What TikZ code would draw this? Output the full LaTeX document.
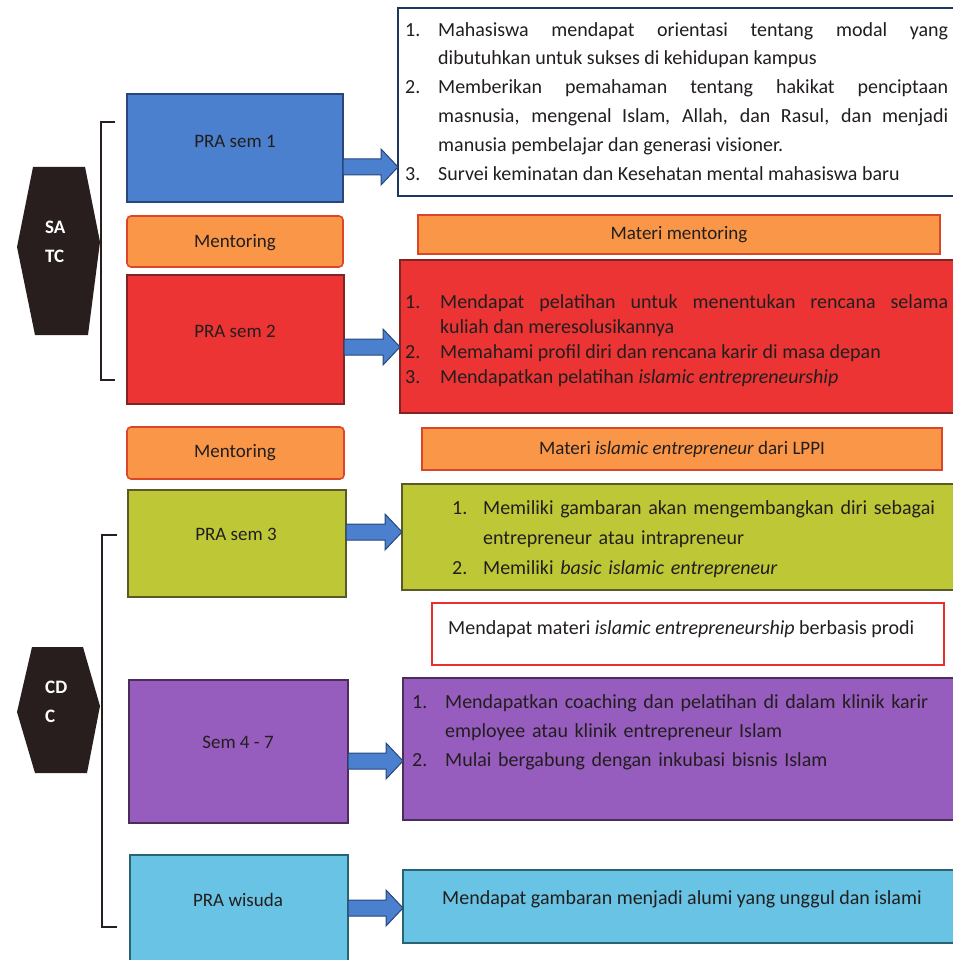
\documentclass[tikz,border=0pt]{standalone}
\usepackage{fontspec}
\setmainfont{Carlito}
\usetikzlibrary{calc}

\definecolor{cBlue}{RGB}{74,128,205}
\definecolor{cBlueD}{RGB}{40,70,120}
\definecolor{cOrange}{RGB}{249,150,72}
\definecolor{cOrangeD}{RGB}{220,70,40}
\definecolor{cRed}{RGB}{236,52,52}
\definecolor{cRedD}{RGB}{130,35,35}
\definecolor{cOlive}{RGB}{190,200,55}
\definecolor{cOliveD}{RGB}{90,90,40}
\definecolor{cPurple}{RGB}{150,92,190}
\definecolor{cPurpleD}{RGB}{75,45,90}
\definecolor{cCyan}{RGB}{105,195,228}
\definecolor{cCyanD}{RGB}{40,100,115}
\definecolor{cHex}{RGB}{40,30,30}
\definecolor{cNavy}{RGB}{30,55,95}
\definecolor{cBorderRed}{RGB}{232,48,48}
\definecolor{cText}{RGB}{35,30,30}

\newcommand{\itm}[3]{\hangindent=#1\hangafter=1\noindent\makebox[#1][l]{#2}#3\par}

\tikzset{
  boxbase/.style={draw, line width=1.6pt, anchor=north west, inner sep=0pt, outer sep=0pt},
  lbl/.style={font=\fontsize{19}{22}\selectfont, text=cText, inner sep=0pt},
  lst/.style={anchor=north west, inner sep=0pt, text=cText},
  hexlbl/.style={font=\fontsize{19}{29}\selectfont\bfseries, text=white, inner sep=0pt, align=left, anchor=north west},
  arrowblk/.style={fill=cBlue, draw=cBlueD, line width=1pt, line join=miter},
  brk/.style={draw=cHex, line width=2pt},
}

\newcommand{\blockarr}[3]{%
  \path (#1.east |- 0,#3) coordinate (#1-s) (#2.west |- 0,#3) coordinate (#1-t);
  \draw[arrowblk] ($(#1-s)+(0,-8)$) -- ($(#1-t)+(-17,-8)$) -- ($(#1-t)+(-17,-18)$) -- (#1-t)
     -- ($(#1-t)+(-17,18)$) -- ($(#1-t)+(-17,8)$) -- ($(#1-s)+(0,8)$) -- cycle;}

\begin{document}
\begin{tikzpicture}[x=1pt,y=-1pt]
\useasboundingbox (0,0) rectangle (952,960);

% hexagons
\fill[cHex] (33,167) -- (85,167) -- (100,242) -- (88,335) -- (35,335) -- (17,247) -- cycle;
\node[hexlbl] (satc) at (45,221) {SA\\TC};
\fill[cHex] (32,647) -- (83,647) -- (100,706) -- (87,773) -- (35,773) -- (17,712) -- cycle;
\node[hexlbl] (cdc) at (45,681) {CD\\C};

% brackets
\draw[brk] (115,122) -- (101,122) -- (101,380) -- (115,380);
\draw[brk] (117,535) -- (102,535) -- (102,927) -- (117,927);

% left column
\node[boxbase, fill=cBlue, draw=cBlueD, minimum width=216, minimum height=108] (p1) at (127,94) {};
\node[lbl] (p1l) at (235,141) {PRA sem 1};
\node[boxbase, fill=cOrange, draw=cOrangeD, rounded corners=4pt, minimum width=216, minimum height=51] (m1) at (127,216) {};
\node[lbl] (m1l) at (235,243) {Mentoring};
\node[boxbase, fill=cRed, draw=cRedD, minimum width=217, minimum height=129] (p2) at (127,275) {};
\node[lbl] (p2l) at (235,331) {PRA sem 2};
\node[boxbase, fill=cOrange, draw=cOrangeD, rounded corners=4pt, minimum width=217, minimum height=52] (m2) at (127,427) {};
\node[lbl] (m2l) at (235,453) {Mentoring};
\node[boxbase, fill=cOlive, draw=cOliveD, minimum width=218, minimum height=107] (p3) at (128,490) {};
\node[lbl] (p3l) at (236,534) {PRA sem 3};
\node[boxbase, fill=cPurple, draw=cPurpleD, minimum width=219, minimum height=143] (s47) at (129,680) {};
\node[lbl] (s47l) at (238,742) {Sem 4 - 7};
\node[boxbase, fill=cCyan, draw=cCyanD, minimum width=218, minimum height=120] (pw) at (130,855) {};
\node[lbl] (pwl) at (238,900) {PRA wisuda};

% right column
\node[boxbase, fill=white, draw=cNavy, line width=2pt, minimum width=565, minimum height=188] (r1) at (398,8) {};
\node[lst, text width=543, align=justify, font=\fontsize{20}{28.8}\selectfont] (r1t) at (405,22) {\tolerance=10000%
\itm{33pt}{1.}{Mahasiswa mendapat orientasi tentang modal yang\linebreak dibutuhkan untuk sukses di kehidupan kampus}%
\itm{33pt}{2.}{Memberikan pemahaman tentang hakikat penciptaan\linebreak masnusia, mengenal Islam, Allah, dan Rasul, dan menjadi\linebreak manusia pembelajar dan generasi visioner.}%
\itm{33pt}{3.}{Survei keminatan dan Kesehatan mental mahasiswa baru}};

\node[boxbase, fill=cOrange, draw=cOrangeD, minimum width=522, minimum height=39] (mm1) at (418,215) {};
\node[lbl] (mm1l) at (mm1.center) {Materi mentoring};

\node[boxbase, fill=cRed, draw=cRedD, minimum width=565, minimum height=153] (r2) at (400,260) {};
\node[lst, text width=543, align=justify, font=\fontsize{20}{25.3}\selectfont] (r2t) at (405,294) {\tolerance=10000%
\itm{35pt}{1.}{Mendapat pelatihan untuk menentukan rencana selama\linebreak kuliah dan meresolusikannya}%
\itm{35pt}{2.}{Memahami profil diri dan rencana karir di masa depan}%
\itm{35pt}{3.}{Mendapatkan pelatihan \textit{islamic entrepreneurship}}};

\node[boxbase, fill=cOrange, draw=cOrangeD, minimum width=520, minimum height=42] (mm2) at (422,428) {};
\node[lbl] (mm2l) at (mm2.center) {Materi \textit{islamic entrepreneur} dari LPPI};

\node[boxbase, fill=cOlive, draw=cOliveD, minimum width=565, minimum height=106] (r3) at (402,484) {};
\node[lst, text width=500, align=left, font=\fontsize{20}{30}\selectfont] (r3t) at (452,500) {%
\itm{31pt}{1.}{Memiliki gambaran akan mengembangkan diri sebagai\newline entrepreneur atau intrapreneur}%
\itm{31pt}{2.}{Memiliki \textit{basic islamic entrepreneur}}};

\node[boxbase, fill=white, draw=cBorderRed, line width=1.8pt, minimum width=512, minimum height=62] (rb) at (432,603) {};
\node[lbl, font=\fontsize{20}{24}\selectfont, anchor=base west] (rbt) at (448,634) {Mendapat materi \textit{islamic entrepreneurship} berbasis prodi};

\node[boxbase, fill=cPurple, draw=cPurpleD, minimum width=565, minimum height=142] (r4) at (403,678) {};
\node[lst, text width=540, align=left, font=\fontsize{20}{29}\selectfont] (r4t) at (412,694) {%
\itm{33pt}{1.}{Mendapatkan coaching dan pelatihan di dalam klinik karir\newline employee atau klinik entrepreneur Islam}%
\itm{33pt}{2.}{Mulai bergabung dengan inkubasi bisnis Islam}};

\node[boxbase, fill=cCyan, draw=cCyanD, minimum width=565, minimum height=73] (r5) at (403,870) {};
\node[lbl, font=\fontsize{20}{24}\selectfont, anchor=base west] (r5t) at (442,904) {Mendapat gambaran menjadi alumi yang unggul dan islami};

% arrows
\blockarr{p1}{r1}{167}
\blockarr{p2}{r2}{347}
\blockarr{p3}{r3}{532}
\blockarr{s47}{r4}{761}
\blockarr{pw}{r5}{908}
\end{tikzpicture}
\end{document}
